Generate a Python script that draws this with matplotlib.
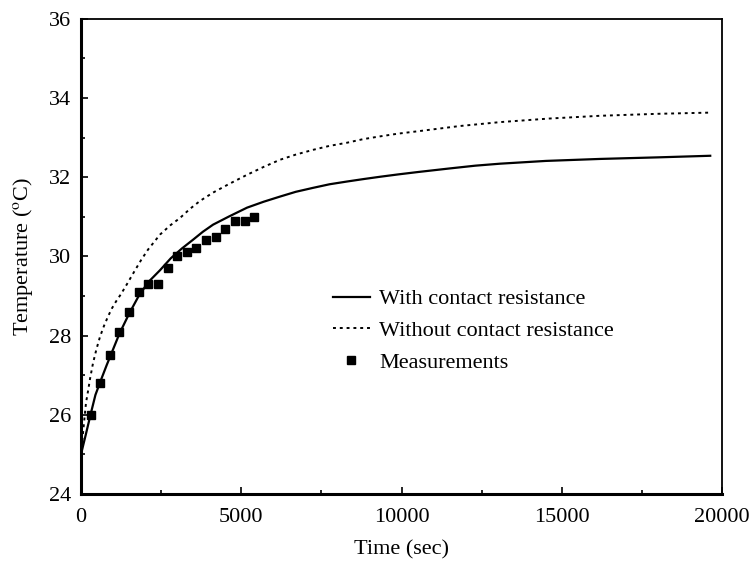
import matplotlib
matplotlib.use("Agg")
import matplotlib.pyplot as plt
from matplotlib.ticker import MultipleLocator

plt.rcParams['font.family'] = 'Liberation Serif'
plt.rcParams['mathtext.fontset'] = 'stix'

# model curve with contact resistance
t_with = [0, 150, 312, 450, 624, 800, 1000, 1200, 1500, 1800, 2100, 2465, 2800,
          3150, 3495, 3800, 4119, 4600, 5180, 5700, 6210, 6700, 7239, 7750, 8300,
          8800, 9329, 9900, 10515, 11500, 12300, 13070, 14500, 16190, 18000, 19625]
T_with = [25.0, 25.5, 26.05, 26.5, 26.88, 27.25, 27.65, 28.05, 28.55, 29.0, 29.35,
          29.65, 29.95, 30.2, 30.42, 30.62, 30.8, 31.0, 31.23, 31.38, 31.51, 31.63,
          31.73, 31.82, 31.89, 31.95, 32.01, 32.07, 32.13, 32.22, 32.29, 32.34, 32.41,
          32.46, 32.5, 32.54]

# model curve without contact resistance
t_without = [0, 94, 156, 220, 280, 374, 480, 593, 720, 842, 960, 1092, 1250, 1435,
             1650, 1870, 2090, 2465, 2780, 3089, 3400, 3713, 4119, 4600, 5180, 5700,
             6210, 6700, 7239, 7750, 8300, 8800, 9329, 9900, 10515, 11800, 13070,
             14600, 16190, 18000, 19625]
T_without = [25.0, 25.8, 26.3, 26.6, 26.9, 27.3, 27.65, 27.97, 28.25, 28.48, 28.68,
             28.86, 29.05, 29.3, 29.6, 29.9, 30.17, 30.55, 30.78, 30.97, 31.2, 31.4,
             31.61, 31.82, 32.06, 32.26, 32.44, 32.57, 32.69, 32.79, 32.87, 32.96,
             33.03, 33.1, 33.16, 33.29, 33.39, 33.48, 33.55, 33.6, 33.63]

# measured temperatures
t_meas = [300, 600, 900, 1200, 1500, 1800, 2100, 2400, 2700, 3000, 3300, 3600,
          3900, 4200, 4500, 4800, 5100, 5400]
T_meas = [26.0, 26.8, 27.5, 28.1, 28.6, 29.1, 29.3, 29.3, 29.7, 30.0, 30.1, 30.2,
          30.4, 30.5, 30.7, 30.9, 30.9, 31.0]

fig = plt.figure(figsize=(7.5, 5.69), dpi=100)
ax = fig.add_axes([0.108, 0.132, 0.855, 0.835])

ax.plot(t_with, T_with, color='black', lw=1.6, label='With contact resistance')
ax.plot(t_without, T_without, color='black', lw=1.4, linestyle=(0, (1.5, 2)),
        label='Without contact resistance')
ax.plot(t_meas, T_meas, 's', color='black', markersize=6, label='Measurements')

ax.set_xlim(0, 20000)
ax.set_ylim(24, 36)
ax.xaxis.set_major_locator(MultipleLocator(5000))
ax.xaxis.set_minor_locator(MultipleLocator(2500))
ax.yaxis.set_major_locator(MultipleLocator(2))
ax.yaxis.set_minor_locator(MultipleLocator(1))
ax.tick_params(which='both', direction='in', top=False, right=False,
               labelsize=16, width=1.2)
ax.tick_params(which='major', length=5)
ax.tick_params(which='minor', length=3)
ax.tick_params(axis='x', which='major', pad=10)
ax.tick_params(axis='y', which='major', pad=7)

ax.spines['left'].set_linewidth(2.2)
ax.spines['bottom'].set_linewidth(2.2)
ax.spines['top'].set_linewidth(1.3)
ax.spines['right'].set_linewidth(1.3)

ax.set_xlabel('Time (sec)', fontsize=16, labelpad=10)
ax.set_ylabel(r'Temperature ($^{\mathrm{o}}$C)', fontsize=16, labelpad=10)

ax.legend(loc='upper left', bbox_to_anchor=(0.375, 0.455), frameon=False,
          fontsize=16, borderpad=0, labelspacing=0.5, handlelength=1.7,
          handletextpad=0.4, numpoints=1)

fig.savefig('out.png', dpi=100)
